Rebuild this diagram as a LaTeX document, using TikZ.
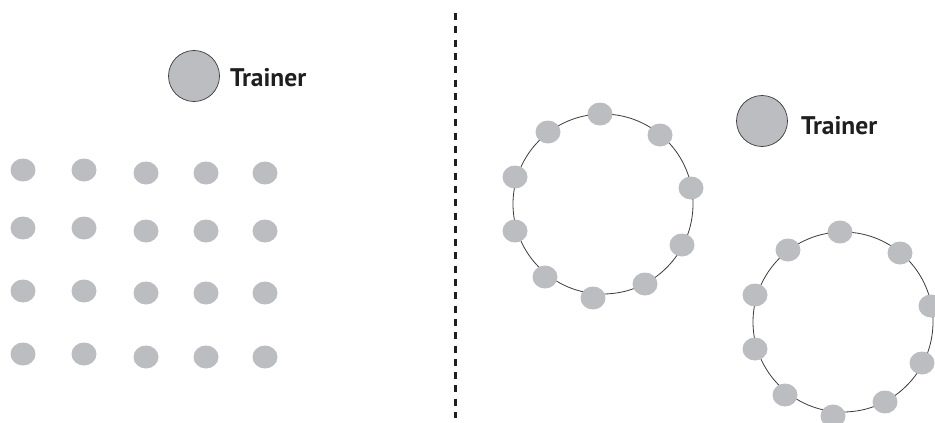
\documentclass[tikz,border=0pt]{standalone}
\usepackage{fontspec}
\usetikzlibrary{shapes.geometric}
\setmainfont{PT Sans}
\definecolor{dotgray}{HTML}{BCBDC0}
\definecolor{linegray}{HTML}{3A3A3A}
\begin{document}
\begin{tikzpicture}[x=1pt,y=-1pt,
  dot/.style={ellipse,fill=dotgray,minimum width=25pt,minimum height=23pt,inner sep=0pt},
  trainer/.style={circle,fill=dotgray,draw=linegray,line width=0.7pt,minimum size=51pt,inner sep=0pt},
  trainerlabel/.style={anchor=west,inner sep=0pt,font=\fontsize{25.5}{30}\selectfont\bfseries,text=black!88},
  ring/.style={draw=linegray,line width=0.8pt},
  divider/.style={draw=black!88,line width=3pt,dash pattern=on 7pt off 6.3pt}]
\useasboundingbox (0,0) rectangle (935,423);
\clip (0,0) rectangle (935,423);
% divider
\coordinate (dtop) at (455,13);
\coordinate (dbot) at (455,418);
\draw[divider] (dtop) -- (dbot);
% left trainer
\node[trainer] (t1) at (194,76) {};
\node[trainerlabel] (t1l) at (230,78) {Trainer};
% grid of trainees
\foreach \r/\ya/\yb in {1/170/173,2/228/231,3/291/293,4/354/357}{
  \node[dot] (g\r a) at (23,\ya) {};
  \node[dot] (g\r b) at (84,\ya) {};
  \node[dot] (g\r c) at (146,\yb) {};
  \node[dot] (g\r d) at (206,\yb) {};
  \node[dot] (g\r e) at (265,\yb) {};
}
% right trainer
\node[trainer] (t2) at (762,121) {};
\node[trainerlabel] (t2l) at (801,126) {Trainer};
% rings
\foreach \n/\dx/\dy in {A/0/0,B/240/118}{
  \begin{scope}[shift={(\dx,\dy)}]
    \node[circle,ring,minimum size=180pt,inner sep=0pt] (ring\n) at (603,204) {};
    \node[dot] (\n1) at (600,114) {};
    \node[dot] (\n2) at (548,132) {};
    \node[dot] (\n3) at (660,135) {};
    \node[dot] (\n4) at (515,177) {};
    \node[dot] (\n5) at (691,188) {};
    \node[dot] (\n6) at (515,231) {};
    \node[dot] (\n7) at (682,245) {};
    \node[dot] (\n8) at (545,277) {};
    \node[dot] (\n9) at (645,284) {};
    \node[dot] (\n10) at (593,298) {};
  \end{scope}
}
\end{tikzpicture}
\end{document}
